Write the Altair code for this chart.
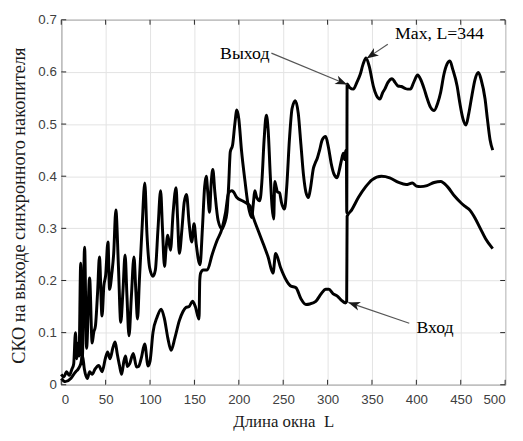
import math
import altair as alt
import pandas as pd

# ---------------- data ----------------
out_L = [0, 3, 6, 9, 12, 14, 16, 17.5, 19, 20, 21.9, 23.5, 26.3, 28.5, 31.9, 34.8, 36.5, 38.5, 41, 43,
         45.9, 48, 50, 52.6, 54.4, 57, 59, 61.5, 64.4, 67, 69.5, 71.9, 74, 76.3, 79, 81.9, 84, 85.9, 88, 91,
         94.1, 96.5, 99.6, 103.3, 106, 109, 111.9, 114, 116.3, 118, 120, 123, 126, 129.3, 131, 133, 136, 138.5, 141.1, 144,
         147, 149.6, 152, 156.3, 159, 161.5, 163.3, 165, 167, 169, 170.7, 173, 176.7, 181, 184, 186.7, 188.5, 190.4, 193, 195.5,
         197.8, 200, 203, 207, 210, 214.4, 216.5, 218, 220, 223.7, 226, 228.5, 231, 233, 235.5, 237.5, 239.3, 240.5, 242, 243.5,
         245.9, 248, 251.5, 254, 257, 260, 263.7, 267, 270, 273, 275.5, 278.5, 281, 284, 286, 288.5, 291, 294, 297.8, 301,
         304, 307, 310.7, 313, 315.5, 317.8, 319, 320.5, 321.2, 321.6, 322, 325, 329, 333, 336.7, 340, 343.3, 347, 351.5, 355,
         358.9, 362, 364.4, 368, 372.6, 376, 379.3, 383, 386.7, 390, 393.3, 397, 401.5, 405, 408.9, 412, 416, 420, 424, 427.4,
         431, 434.5, 437.8, 441, 445.9, 449, 452.5, 455.9, 459, 462.6, 466, 469.9, 473, 477.4, 480, 483, 486]
out_v = [0.020, 0.015, 0.025, 0.018, 0.030, 0.040, 0.100, 0.050, 0.080, 0.055, 0.233, 0.040, 0.264, 0.070, 0.205, 0.080, 0.100, 0.113, 0.180, 0.245,
         0.132, 0.190, 0.210, 0.274, 0.183, 0.214, 0.250, 0.335, 0.227, 0.120, 0.180, 0.249, 0.170, 0.094, 0.170, 0.245, 0.180, 0.126, 0.200, 0.300,
         0.387, 0.290, 0.224, 0.208, 0.220, 0.300, 0.372, 0.300, 0.227, 0.260, 0.287, 0.258, 0.330, 0.378, 0.320, 0.252, 0.300, 0.350, 0.365, 0.310,
         0.274, 0.309, 0.270, 0.230, 0.300, 0.380, 0.400, 0.370, 0.331, 0.390, 0.413, 0.370, 0.315, 0.299, 0.310, 0.331, 0.380, 0.447, 0.460, 0.500,
         0.527, 0.510, 0.450, 0.390, 0.350, 0.321, 0.350, 0.372, 0.360, 0.353, 0.390, 0.470, 0.517, 0.490, 0.400, 0.340, 0.318, 0.390, 0.380, 0.370,
         0.368, 0.350, 0.337, 0.380, 0.470, 0.530, 0.545, 0.520, 0.460, 0.400, 0.370, 0.359, 0.380, 0.415, 0.425, 0.435, 0.450, 0.470, 0.476, 0.455,
         0.425, 0.405, 0.397, 0.410, 0.430, 0.444, 0.432, 0.450, 0.440, 0.330, 0.577, 0.570, 0.567, 0.580, 0.595, 0.615, 0.627, 0.610, 0.573, 0.555,
         0.548, 0.560, 0.567, 0.580, 0.587, 0.580, 0.573, 0.572, 0.569, 0.567, 0.567, 0.580, 0.594, 0.585, 0.567, 0.550, 0.532, 0.526, 0.540, 0.561,
         0.595, 0.615, 0.621, 0.605, 0.573, 0.540, 0.510, 0.498, 0.520, 0.555, 0.585, 0.599, 0.585, 0.548, 0.510, 0.470, 0.450]

in_L = [0, 4.4, 10.7, 14, 16.3, 19, 21.9, 24, 26, 29.3, 32, 34.8, 38, 42.2, 46, 49.6, 52.2, 55, 58, 60.7,
        63, 65.6, 68, 70.5, 72.5, 74.4, 77, 81.1, 84.8, 87, 90, 94, 97.8, 100, 103.3, 108, 112.6, 116.3, 120, 123.7,
        128, 133, 137, 140.4, 144, 147.8, 151, 155.2, 156, 157, 160, 164.4, 170, 175.6, 181, 185, 188.5, 192, 194, 197.8,
        205, 212.6, 216.3, 222, 227.4, 233, 238.5, 241.5, 247, 253.3, 258, 264.4, 270, 275.6, 280, 286.7, 293, 298, 301.5, 306,
        311, 315, 320, 321.5, 322, 327, 335, 343, 350, 360.7, 370, 380, 388.5, 395.5, 400, 404.6, 412, 420, 427.4, 435,
        443, 449.6, 455, 460.7, 466, 472, 478, 486]
in_v = [0.012, 0.006, 0.012, 0.020, 0.025, 0.030, 0.040, 0.055, 0.030, 0.012, 0.025, 0.020, 0.030, 0.037, 0.025, 0.050, 0.063, 0.050, 0.070, 0.082,
        0.060, 0.037, 0.020, 0.045, 0.055, 0.035, 0.040, 0.060, 0.034, 0.035, 0.050, 0.078, 0.036, 0.045, 0.100, 0.130, 0.145, 0.126, 0.090, 0.066,
        0.090, 0.123, 0.140, 0.148, 0.150, 0.160, 0.150, 0.126, 0.200, 0.214, 0.220, 0.220, 0.250, 0.277, 0.299, 0.330, 0.368, 0.372, 0.370, 0.359,
        0.352, 0.343, 0.321, 0.295, 0.271, 0.245, 0.214, 0.252, 0.225, 0.201, 0.190, 0.186, 0.165, 0.154, 0.155, 0.160, 0.175, 0.183, 0.183, 0.175,
        0.170, 0.163, 0.157, 0.160, 0.323, 0.335, 0.360, 0.380, 0.393, 0.400, 0.397, 0.388, 0.384, 0.387, 0.381, 0.380, 0.382, 0.388, 0.390, 0.380,
        0.362, 0.350, 0.342, 0.334, 0.320, 0.300, 0.280, 0.261]

x_ticks = [0, 50, 100, 150, 200, 250, 300, 350, 400, 450, 500]
y_ticks = [0.0, 0.1, 0.2, 0.3, 0.4, 0.5, 0.6, 0.7]

ann_text = ["Выход", "Max, L=344", "Вход"]
ann_tx = [206.7, 426.0, 421.0]     # label centre (L)
ann_ty = [0.635, 0.672, 0.108]     # label centre (value)
ann_sx = [236.7, 367.8, 392.0]     # arrow start
ann_sy = [0.636, 0.653, 0.118]
ann_ex = [322.0, 344.0, 323.3]     # arrow tip
ann_ey = [0.576, 0.626, 0.158]

# ---------------- layout ----------------
W, H = 450, 370
XMAX, YMAX = 500, 0.7

ang = []
for sx, sy, ex, ey in zip(ann_sx, ann_sy, ann_ex, ann_ey):
    dx = (ex - sx) * W / XMAX
    dy = -(ey - sy) * H / YMAX
    ang.append(math.degrees(math.atan2(dy, dx)) % 360)

df_out = pd.DataFrame({"L": out_L, "v": out_v})
df_in = pd.DataFrame({"L": in_L, "v": in_v})
df_xt = pd.DataFrame({"L": x_ticks})
df_yt = pd.DataFrame({"v": y_ticks})
df_ann = pd.DataFrame({"t": ann_text, "tx": ann_tx, "ty": ann_ty, "sx": ann_sx, "sy": ann_sy,
                       "ex": ann_ex, "ey": ann_ey, "ang": ang})

xs = alt.Scale(domain=[0, XMAX], nice=False, zero=False)
ys = alt.Scale(domain=[0, YMAX], nice=False, zero=False)

X_TITLE = "Длина окна\u00a0 L"
Y_TITLE = "СКО на выходе синхронного накопителя"
x_axis = alt.Axis(values=x_ticks, title=X_TITLE, format="d", labelPadding=8,
                  titleFontSize=17, titleY=37, titleBaseline="middle")
y_axis = alt.Axis(values=y_ticks, title=Y_TITLE, format=".1~f",
                  labelPadding=5, titleFontSize=18.5, titleX=-43, titleY=188, titleAngle=270,
                  titleBaseline="middle", titleAlign="center")


def X(field):
    return alt.X(field, scale=xs, axis=x_axis, title=X_TITLE)


def Y(field):
    return alt.Y(field, scale=ys, axis=y_axis, title=Y_TITLE)


line_out = alt.Chart(df_out).mark_line(color="black", strokeWidth=3, interpolate="monotone").encode(
    x=X("L:Q"), y=Y("v:Q"))
line_in = alt.Chart(df_in).mark_line(color="black", strokeWidth=3, interpolate="monotone").encode(
    x=X("L:Q"), y=Y("v:Q"))

tick_col = "#262626"
tb = alt.Chart(df_xt).mark_rule(color=tick_col, strokeWidth=1).encode(
    x=X("L:Q"), y=alt.value(H), y2=alt.value(H - 5))
tt = alt.Chart(df_xt).mark_rule(color=tick_col, strokeWidth=1).encode(
    x=X("L:Q"), y=alt.value(0), y2=alt.value(5))
tl = alt.Chart(df_yt).mark_rule(color=tick_col, strokeWidth=1).encode(
    y=Y("v:Q"), x=alt.value(0), x2=alt.value(5))
tr = alt.Chart(df_yt).mark_rule(color=tick_col, strokeWidth=1).encode(
    y=Y("v:Q"), x=alt.value(W - 5), x2=alt.value(W))

arrow_lines = alt.Chart(df_ann).mark_rule(color="#555555", strokeWidth=1.2).encode(
    x=X("sx:Q"), y=Y("sy:Q"), x2="ex:Q", y2="ey:Q")

head_path = "M0,0L-2,-0.75L-1.45,0L-2,0.75Z"
arrow_heads = alt.Chart(df_ann).mark_point(shape=head_path, filled=True, size=144,
                                           color="#1a1a1a", opacity=1).encode(
    x=X("ex:Q"), y=Y("ey:Q"), angle=alt.Angle("ang:Q", scale=None))

labels = alt.Chart(df_ann).mark_text(font="Liberation Serif", fontSize=18, color="black",
                                     align="center", baseline="middle").encode(
    x=X("tx:Q"), y=Y("ty:Q"), text="t:N")

chart = alt.layer(line_out, line_in, tb, tt, tl, tr, arrow_lines, arrow_heads, labels).properties(
    width=W, height=H,
    autosize=alt.AutoSizeParams(type="none"),
    padding={"left": 54, "top": 9, "right": 10, "bottom": 50},
).configure_view(stroke="#262626", strokeWidth=1).configure_axis(
    grid=True, gridColor="#e3e3e3", gridWidth=1, domain=False, ticks=False,
    labelFont="Liberation Sans", labelFontSize=13.5, labelColor="#404040",
    titleFont="Liberation Serif", titleColor="#1a1a1a", titleFontWeight="normal",
)

chart.save("out.html", embed_options={"renderer": "svg", "actions": False})
